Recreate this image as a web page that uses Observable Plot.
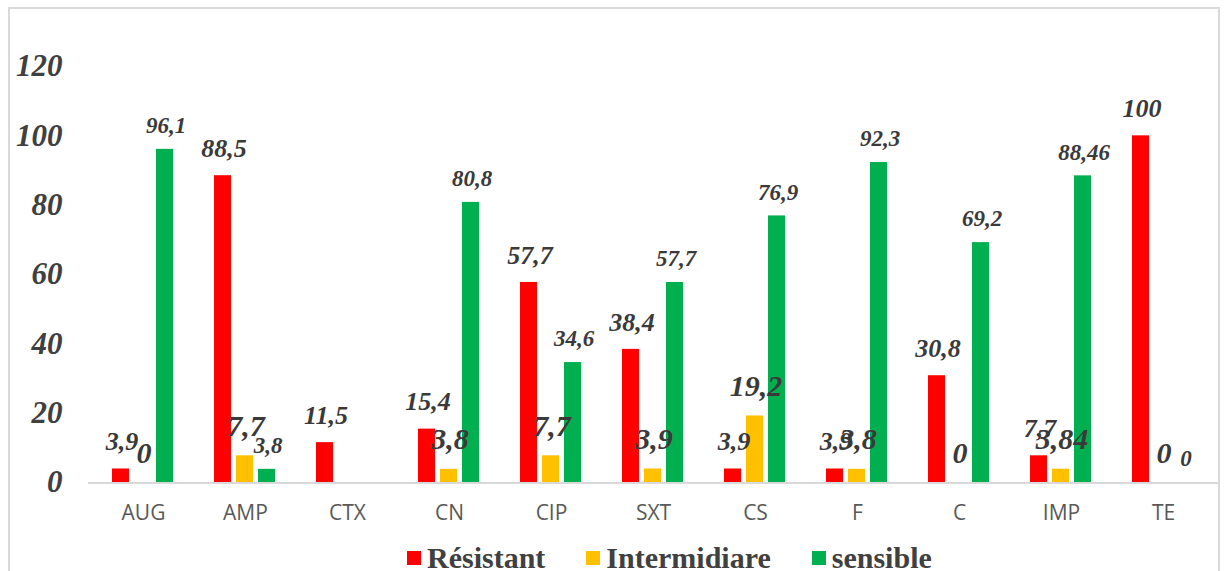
<!DOCTYPE html>
<html>
<head>
<meta charset="utf-8">
<script src="https://cdn.jsdelivr.net/npm/d3@7"></script>
<script src="https://cdn.jsdelivr.net/npm/@observablehq/plot@0.6"></script>
<style>
  html, body { margin: 0; padding: 0; background: #fff; }
  body { width: 1226px; height: 571px; position: relative; overflow: hidden; }
  #frame { position: absolute; left: 8px; top: 7px; width: 1208px; height: 600px;
           border: 2px solid #d9d9d9; box-sizing: content-box; }
  #chart { position: absolute; left: 0; top: 0; }
  #legend { position: absolute; left: 407px; top: 546px; display: flex; align-items: center;
            font-family: "Liberation Serif", "Times New Roman", serif; font-weight: bold;
            font-size: 30px; line-height: 24px; color: #404040; }
  .item { display: flex; align-items: center; margin-right: 41px; }
  .sw { width: 14px; height: 14px; margin-right: 6px; }
  svg [aria-label="y-axis tick label"] text { font-family: "Liberation Serif", serif; font-weight: bold; font-style: italic; font-size: 31px; fill: #404040; }
  svg [aria-label="fx-axis tick label"] text { font-family: "Open Sans", sans-serif; font-size: 21px; fill: #595959; }
</style>
</head>
<body>
<div id="frame"></div>
<div id="chart"></div>
<div id="legend"></div>
<script>
// ---- data ----
const categories = ["AUG", "AMP", "CTX", "CN", "CIP", "SXT", "CS", "F", "C", "IMP", "TE"];
const series = ["Résistant", "Intermidiare", "sensible"];
const resistant     = [3.9, 88.5, 11.5, 15.4, 57.7, 38.4, 3.9, 3.9, 30.8, 7.7, 100];
const intermidiare  = [0, 7.7, null, 3.8, 7.7, 3.9, 19.2, 3.8, 0, 3.84, 0];
const sensible      = [96.1, 3.8, null, 80.8, 34.6, 57.7, 76.9, 92.3, 69.2, 88.46, 0];
const yTicks = [0, 20, 40, 60, 80, 100, 120];
const colors = ["#ff0000", "#ffc000", "#00b050"];

const valuesBySeries = [resistant, intermidiare, sensible];
const rows = [];
categories.forEach((c, i) => {
  series.forEach((s, j) => {
    const v = valuesBySeries[j][i];
    if (v !== null && v !== undefined) rows.push({cat: c, series: s, value: v});
  });
});
const fmt = v => String(v).replace(".", ",");

const labelStyle = {
  "Résistant":    {fontSize: 26, dy: -27},
  "Intermidiare": {fontSize: 30, dy: -29.5},
  "sensible":     {fontSize: 23, dy: -23.5}
};

const textMarks = series.map(s => Plot.text(rows.filter(d => d.series === s), {
  fx: "cat", x: "series", y: "value", text: d => fmt(d.value),
  dy: labelStyle[s].dy, dx: 1, fontSize: labelStyle[s].fontSize,
  fontWeight: "bold", fontStyle: "italic", fontFamily: "Liberation Serif",
  fill: "#3a3a3a"
}));

const chart = Plot.plot({
  width: 1226,
  height: 530,
  marginLeft: 88,
  marginRight: 8,
  marginTop: 66,
  marginBottom: 48,
  style: {background: "transparent", color: "#404040"},
  fx: {domain: categories, paddingInner: 0.377, paddingOuter: 0.1885, label: null, axis: null},
  x: {domain: series, paddingInner: 0.217, paddingOuter: 0, axis: null},
  y: {domain: [0, 120], axis: null},
  color: {domain: series, range: colors},
  marks: [
    Plot.axisY({ticks: yTicks, tickSize: 0, tickPadding: 49, label: null, tickFormat: d => String(d)}),
    Plot.axisFx({anchor: "bottom", tickSize: 0, tickPadding: 23, label: null}),
    Plot.barY(rows, {fx: "cat", x: "series", y: "value", fill: "series"}),
    ...textMarks
  ]
});
document.getElementById("chart").appendChild(chart);

// continuous baseline across the whole plot area, through the library's scales
const svg = d3.select(chart.tagName.toLowerCase() === "svg" ? chart : chart.querySelector("svg"));
const fxRange = chart.scale("fx").range;
const y0 = chart.scale("y").apply(0);
svg.insert("line", "g")
  .attr("x1", fxRange[0]).attr("x2", fxRange[1])
  .attr("y1", y0 + 1).attr("y2", y0 + 1)
  .attr("stroke", "#d9d9d9").attr("stroke-width", 2);

// legend
const legend = d3.select("#legend");
series.forEach((s, j) => {
  const it = legend.append("div").attr("class", "item");
  it.append("div").attr("class", "sw").style("background", colors[j]);
  it.append("span").text(s);
});
</script>
</body>
</html>
